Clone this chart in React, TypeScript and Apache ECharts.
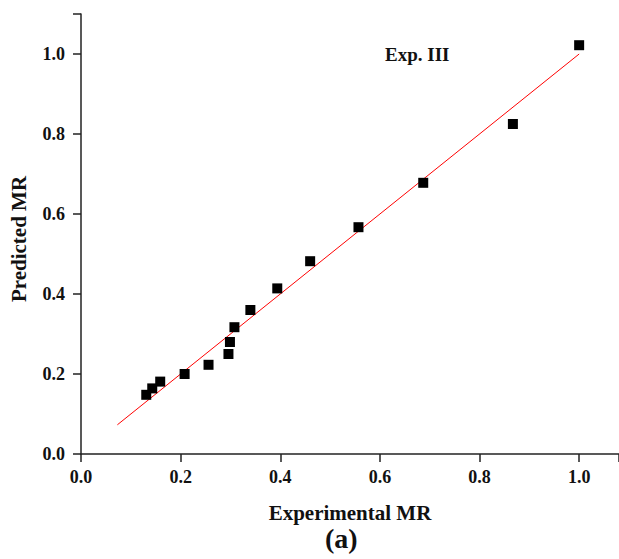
import React, { useEffect, useRef } from "react";
import * as echarts from "echarts";

const experimentalMR = [0.131, 0.143, 0.159, 0.208, 0.256, 0.296, 0.299, 0.308, 0.34, 0.394, 0.46, 0.557, 0.687, 0.867, 1.0];
const predictedMR = [0.148, 0.164, 0.181, 0.2, 0.223, 0.25, 0.28, 0.317, 0.36, 0.414, 0.482, 0.567, 0.678, 0.825, 1.022];
const fitX = [0.073, 1.0];
const fitY = [0.073, 1.0];
const xTicks = [0.0, 0.2, 0.4, 0.6, 0.8, 1.0];
const yTicks = [0.0, 0.2, 0.4, 0.6, 0.8, 1.0];

const FONT = "'Liberation Serif', 'Times New Roman', serif";

export default function App() {
  const ref = useRef<HTMLDivElement>(null);
  useEffect(() => {
    if (!ref.current) return;
    const chart = echarts.init(ref.current, undefined, { renderer: "svg" });
    const axisCommon = {
      axisLine: { show: true, lineStyle: { color: "#222", width: 1.5 } },
      axisTick: { show: true, inside: false, length: 8, lineStyle: { color: "#222", width: 1.5 } },
      splitLine: { show: false },
      nameLocation: "middle" as const,
      nameTextStyle: { fontFamily: FONT, fontWeight: "bold" as const, fontSize: 21, color: "#111" },
    };
    chart.setOption({
      animation: false,
      backgroundColor: "#fff",
      grid: { left: 81, top: 14, right: 0, bottom: 105, containLabel: false, outerBoundsMode: "none" },
      xAxis: {
        type: "value",
        min: 0,
        max: 1.08,
        interval: 0.2,
        name: "Experimental MR",
        nameGap: 48,
        ...axisCommon,
        axisLabel: {
          fontFamily: FONT,
          fontWeight: "bold",
          fontSize: 18,
          color: "#111",
          margin: 14,
          formatter: (v: number) => (xTicks.some((t) => Math.abs(t - v) < 1e-6) ? v.toFixed(1) : ""),
        },
      },
      yAxis: {
        type: "value",
        min: 0,
        max: 1.1,
        interval: 0.2,
        name: "Predicted MR",
        nameGap: 52,
        ...axisCommon,
        nameTextStyle: { ...axisCommon.nameTextStyle, padding: [0, 0, 0, -10] },
        axisLabel: {
          fontFamily: FONT,
          fontWeight: "bold",
          fontSize: 18,
          color: "#111",
          margin: 16,
          formatter: (v: number) => (yTicks.some((t) => Math.abs(t - v) < 1e-6) ? v.toFixed(1) : ""),
        },
      },
      graphic: [
        {
          type: "text",
          left: 385,
          top: 45,
          style: { text: "Exp. III", fontFamily: FONT, fontWeight: "bold", fontSize: 19, fill: "#111" },
        },
        {
          type: "text",
          left: 325,
          top: 524,
          style: { text: "(a)", fontFamily: FONT, fontWeight: "bold", fontSize: 28, fill: "#111" },
        },
      ],
      series: [
        {
          type: "line",
          data: fitX.map((x, i) => [x, fitY[i]]),
          symbol: "none",
          lineStyle: { color: "#ff0000", width: 1 },
          z: 2,
        },
        {
          type: "scatter",
          data: experimentalMR.map((x, i) => [x, predictedMR[i]]),
          symbol: "rect",
          symbolSize: 10,
          itemStyle: { color: "#000", opacity: 1 },
          z: 3,
        },
      ],
    });
    return () => chart.dispose();
  }, []);
  return (
    <div
      ref={ref}
      style={{ position: "fixed", left: 0, top: 0, width: 619, height: 559, background: "#fff" }}
    />
  );
}
